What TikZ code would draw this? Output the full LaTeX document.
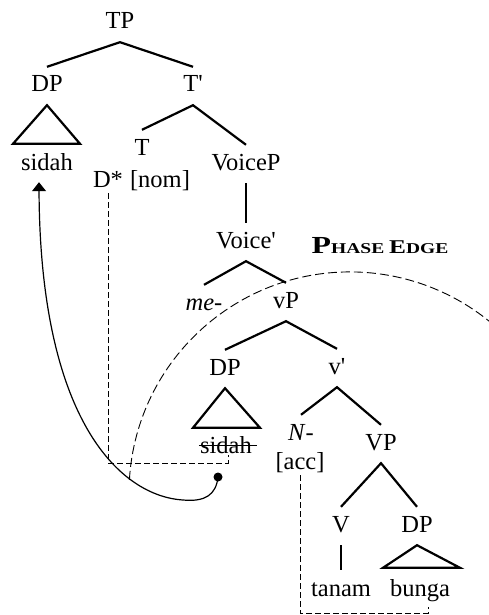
\documentclass[tikz,border=0pt]{standalone}
\usepackage{fontspec}
\setmainfont{Liberation Serif}
\usepackage{graphicx}
\usetikzlibrary{calc,arrows.meta}

\tikzset{
  cat/.style={anchor=base, inner xsep=1pt, inner ysep=8pt, text height=17pt, text depth=5pt},
  word/.style={cat, inner ysep=1pt},
  branch/.style={line width=2.2pt},
  roof/.style={line width=2.2pt},
  agree/.style={line width=0.8pt, dash pattern=on 6pt off 3pt},
  phase/.style={line width=0.9pt, dash pattern=on 9pt off 4pt},
  move/.style={line width=1.2pt, -{Triangle[width=14pt,length=9pt]}}
}
\newcommand{\prm}{\textquotesingle}

\begin{document}
\begin{tikzpicture}[x=1pt,y=1pt,yscale=-1,font=\fontsize{24.5}{29}\selectfont]
\useasboundingbox (0,0) rectangle (489,615);

% Text Node
\node[cat] (TP) at (120,29) {TP};
\node[cat] (DPa) at (47,92) {DP};
\node[cat] (Tbar) at (193,92) {T\prm};
\node[word] (sidaha) at (47,170) {sidah};
\node[cat] (T) at (142,155) {T};
\node[word] (Dstar) at (108,187) {D*};
\node[word] (nom) at (160,187) {[nom]};
\node[cat] (VoiceP) at (246,170) {VoiceP};
\node[cat] (Voicebar) at (246,248) {Voice\prm};
\node[cat] (me) at (204,310) {\textit{me-}};
\node[cat] (vP) at (286,308) {vP};
\node[cat] (DPb) at (225,375) {DP};
\node[cat] (vbar) at (337,374) {v\prm};
\node[word] (sidahb) at (226,453) {sidah};
\node[cat] (N) at (301,440) {\textit{N}-};
\node[word] (acc) at (300,469) {[acc]};
\node[cat] (VP) at (381,450) {VP};
\node[cat] (V) at (341,532) {V};
\node[cat] (DPc) at (417,532) {DP};
\node[word] (tanam) at (341,596) {tanam};
\node[word] (bunga) at (420,596) {bunga};
% Text Node
\node[anchor=base] (edge) at (380,253) {\scalebox{1.3}[1]{\bfseries P\fontsize{15}{15}\selectfont HASE \fontsize{19.5}{19}\selectfont E\fontsize{15}{15}\selectfont DGE}};

%Straight Lines
\draw[branch] (DPa.north) -- (TP.south) -- (Tbar.north);
\draw[branch] (T.north) -- (Tbar.south) -- (VoiceP.north);
\draw[branch] (VoiceP.south) -- (Voicebar.north);
\draw[branch] (me.north) -- (Voicebar.south) -- (vP.north);
\draw[branch] (DPb.north) -- (vP.south) -- (vbar.north);
\draw[branch] (N.north) -- (vbar.south) -- (VP.north);
\draw[branch] (V.north) -- (VP.south) -- (DPc.north);
\draw[branch, shorten >=8pt] (V.south) -- (tanam.north);

% strike through the lower copy
\draw[line width=1pt] ($(sidahb.base west)+(0,-8)$) -- ($(sidahb.base east)+(4,-8)$);

%Shape: Triangle
\draw[roof] (DPa.south) -- ($(sidaha.north)+(-34,-8)$) -- ($(sidaha.north)+(33,-8)$) -- cycle;
\draw[roof] (DPb.south) -- ($(sidahb.north)+(-33,-7)$) -- ($(sidahb.north)+(34,-7)$) -- cycle;
\draw[roof] (DPc.south) -- ($(bunga.north)+(-37,-10)$) -- ($(bunga.north)+(40,-10)$) -- cycle;

%Dashed Lines
\draw[agree] (Dstar.south) |- ($(sidahb.south)+(2,4)$) -- ($(sidahb.south)+(2,-4)$);
\draw[agree] (acc.south) |- ($(bunga.south)+(8,11)$) -- ($(bunga.south)+(8,5)$);

%Curve Lines
\draw[phase] (129.4,479.8) arc[start angle=183.4, end angle=309, radius=221];

\coordinate (trace) at (218,477);
\fill (trace) circle (4.5);
\draw[move] (trace) .. controls (216,495) and (205,502) .. (183,500) .. controls (120,496) and (40,420) .. ($(sidaha.south)+(-8,6)$);

\end{tikzpicture}
\end{document}
